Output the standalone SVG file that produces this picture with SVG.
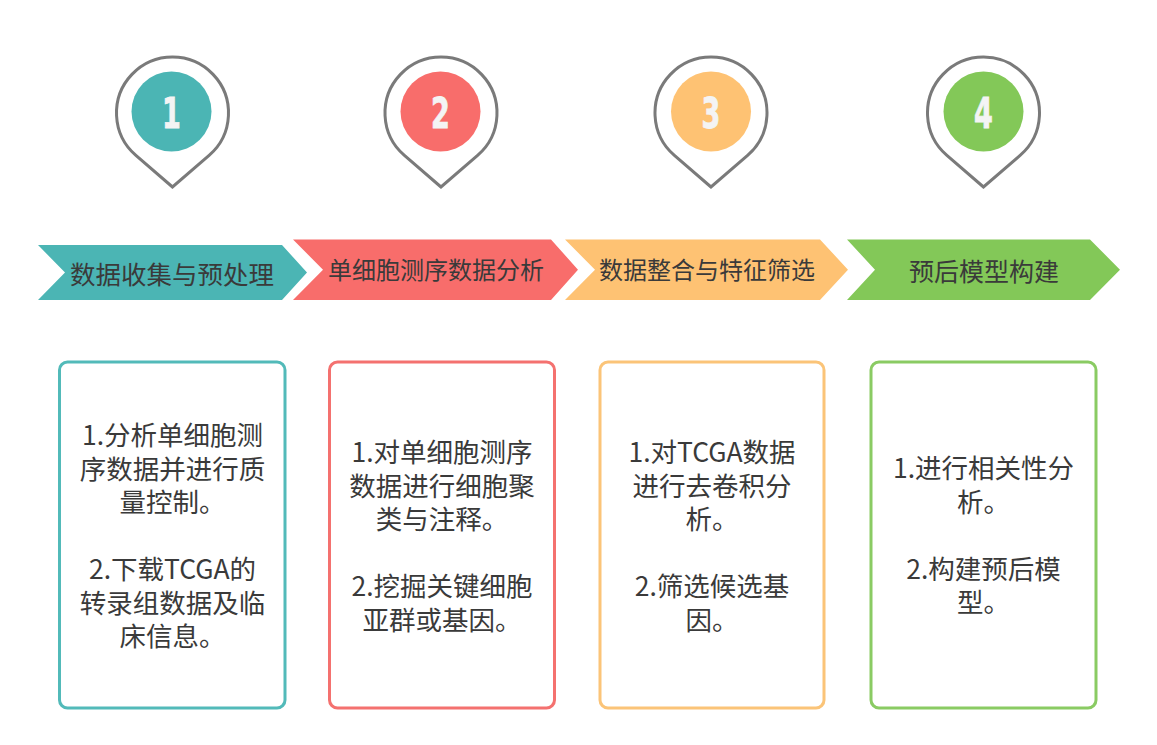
<svg xmlns="http://www.w3.org/2000/svg" width="1157" height="745" viewBox="0 0 1157 745">
  <style>
    .pin { fill: #ffffff; stroke: #7a7a7a; stroke-width: 3; stroke-linejoin: miter; }
    .digit { font-family: "DejaVu Sans Condensed", "DejaVu Sans", sans-serif; font-weight: bold; font-size: 43px; fill: #f4f4f4; stroke: #f4f4f4; stroke-width: 0.8; text-anchor: middle; }
    .band { font-family: "Noto Sans CJK SC", "Noto Sans", sans-serif; fill: #3a3a3a; text-anchor: middle; }
    .box { fill: #ffffff; stroke-width: 3; }
    .body { font-family: "Noto Sans CJK SC", "Noto Sans", sans-serif; font-size: 26.5px; fill: #3a3a3a; text-anchor: middle; }
    .teal { fill: #4BB5B4; }
    .red { fill: #F86D6B; }
    .orange { fill: #FEC273; }
    .green { fill: #83C858; }
  </style>
  <defs>
    <path id="pinShape" d="M0 74 L-36.6 42.4 A56 56 0 1 1 36.6 42.4 Z"/>
  </defs>
  <rect width="1157" height="745" fill="#ffffff"/>

  <g id="pin1">
    <use href="#pinShape" class="pin" transform="translate(172.5,113)"/>
    <circle cx="171.5" cy="111.5" r="40" class="teal"/>
    <text class="digit" transform="translate(171.5,127.5) scale(0.7,1)">1</text>
  </g>
  <g id="pin2">
    <use href="#pinShape" class="pin" transform="translate(441,113)"/>
    <circle cx="440.5" cy="111.5" r="40" class="red"/>
    <text class="digit" transform="translate(440.5,127.5) scale(0.7,1)">2</text>
  </g>
  <g id="pin3">
    <use href="#pinShape" class="pin" transform="translate(711,113)"/>
    <circle cx="711" cy="111.5" r="40" class="orange"/>
    <text class="digit" transform="translate(711,127.5) scale(0.7,1)">3</text>
  </g>
  <g id="pin4">
    <use href="#pinShape" class="pin" transform="translate(983.5,113)"/>
    <circle cx="983.5" cy="111.5" r="40" class="green"/>
    <text class="digit" transform="translate(983.5,127.5) scale(0.7,1)">4</text>
  </g>

  <g id="band1">
    <path class="teal" d="M38 245 L282 245 L307 272.5 L282 300 L38 300 L65 272.5 Z"/>
    <text class="band" x="172" y="283.5" font-size="25.5">数据收集与预处理</text>
  </g>
  <g id="band2">
    <path class="red" d="M293 239.5 L551 239.5 L578 269.7 L551 300 L293 300 L323 269.7 Z"/>
    <text class="band" x="436" y="279" font-size="24">单细胞测序数据分析</text>
  </g>
  <g id="band3">
    <path class="orange" d="M565 239.5 L820 239.5 L848 269.7 L820 300 L565 300 L595 269.7 Z"/>
    <text class="band" x="707" y="279" font-size="24">数据整合与特征筛选</text>
  </g>
  <g id="band4">
    <path class="green" d="M847 239.5 L1090 239.5 L1120 269.7 L1090 300 L847 300 L875 269.7 Z"/>
    <text class="band" x="984" y="280.5" font-size="25">预后模型构建</text>
  </g>

  <g id="connectors"></g>

  <g id="box1">
    <rect class="box" x="59.5" y="362" width="225.5" height="346" rx="8" stroke="#52BAB9"/>
    <text class="body" x="172.5" y="445">1.分析单细胞测</text>
    <text class="body" x="172.5" y="478.5">序数据并进行质</text>
    <text class="body" x="172.5" y="512">量控制。</text>
    <text class="body" x="172.5" y="579">2.下载TCGA的</text>
    <text class="body" x="172.5" y="612.5">转录组数据及临</text>
    <text class="body" x="172.5" y="646">床信息。</text>
  </g>
  <g id="box2">
    <rect class="box" x="329.5" y="362" width="225" height="346" rx="8" stroke="#F4716F"/>
    <text class="body" x="442" y="462">1.对单细胞测序</text>
    <text class="body" x="442" y="495.5">数据进行细胞聚</text>
    <text class="body" x="442" y="529">类与注释。</text>
    <text class="body" x="442" y="596">2.挖掘关键细胞</text>
    <text class="body" x="442" y="629.5">亚群或基因。</text>
  </g>
  <g id="box3">
    <rect class="box" x="600" y="362" width="224" height="346" rx="8" stroke="#FBC478"/>
    <text class="body" x="712" y="462">1.对TCGA数据</text>
    <text class="body" x="712" y="495.5">进行去卷积分</text>
    <text class="body" x="712" y="529">析。</text>
    <text class="body" x="712" y="596">2.筛选候选基</text>
    <text class="body" x="712" y="629.5">因。</text>
  </g>
  <g id="box4">
    <rect class="box" x="871" y="362" width="225" height="346" rx="8" stroke="#8ACB63"/>
    <text class="body" x="983.5" y="478">1.进行相关性分</text>
    <text class="body" x="983.5" y="511.5">析。</text>
    <text class="body" x="983.5" y="578.5">2.构建预后模</text>
    <text class="body" x="983.5" y="612">型。</text>
  </g>
</svg>
